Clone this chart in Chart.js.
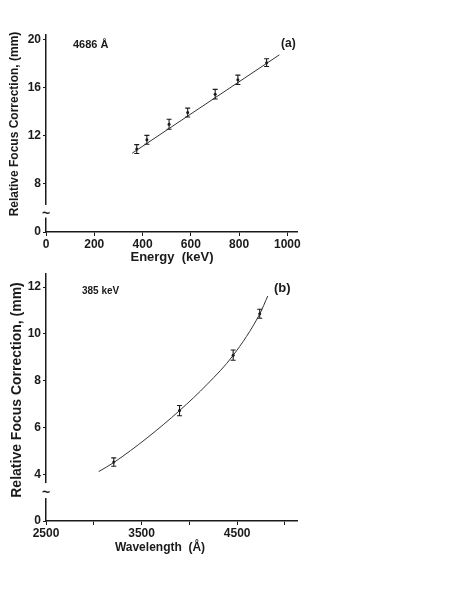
<!DOCTYPE html>
<html lang="en">
<head>
<meta charset="UTF-8">
<title>Relative Focus Correction</title>
<script src="https://cdn.jsdelivr.net/npm/chart.js"></script>
<style>
    body {
        margin: 0;
        background: #fff;
        width: 451px;
        height: 603px;
        position: relative;
        overflow: hidden;
    }
    canvas {
        position: absolute;
        left: 0;
    }
    #chartA { top: 0; }
    #chartB { top: 265px; }
</style>
</head>
<body>

<canvas id="chartA" width="451" height="270"></canvas>
<canvas id="chartB" width="451" height="300"></canvas>

<script>
    // (a) 4686 A line, focus correction vs energy
    const energyKeV = [376, 418, 510, 587, 701, 795, 914];
    const focusA = [10.9, 11.67, 12.97, 13.94, 15.47, 16.67, 18.1];
    const errA = [0.37, 0.37, 0.42, 0.37, 0.4, 0.39, 0.32];
    const fitEnergy = [357, 967];
    const fitFocusA = [10.56, 18.75];
    const xTicksA = [0, 200, 400, 600, 800, 1000];
    const yTicksA = [8, 12, 16, 20];

    // (b) 385 keV, focus correction vs wavelength
    const wavelength = [3209, 3897, 4458, 4736];
    const focusB = [4.52, 6.72, 9.09, 10.86];
    const errB = [0.18, 0.22, 0.22, 0.19];
    const fitWavelength = [3051, 3209, 3557, 3897, 4188, 4458, 4736, 4820];
    const fitFocusB = [4.11, 4.50, 5.55, 6.72, 7.85, 9.08, 10.85, 11.62];
    const xTicksB = [2500, 3000, 3500, 4000, 4500, 5000];
    const xLabelsB = [2500, 3500, 4500];
    const yTicksB = [4, 6, 8, 10, 12];

    const ink = '#1a1a1a';
    const fam = '"Liberation Sans", Arial, sans-serif';

    function pts(xs, ys) {
        return xs.map((x, i) => ({ x: x, y: ys[i] }));
    }

    // error bars, axis break and the hand lettering
    function extras(cfg) {
        return {
            id: 'extras',
            afterDatasetsDraw(chart) {
                const ctx = chart.ctx;
                const xs = chart.scales.x, ys = chart.scales.y;
                ctx.save();
                ctx.strokeStyle = ink;
                ctx.lineWidth = 1.1;
                cfg.xs.forEach((xv, i) => {
                    const px = xs.getPixelForValue(xv);
                    const t = ys.getPixelForValue(cfg.ys[i] + cfg.err[i]);
                    const b = ys.getPixelForValue(cfg.ys[i] - cfg.err[i]);
                    ctx.beginPath();
                    ctx.moveTo(px, t); ctx.lineTo(px, b);
                    ctx.moveTo(px - 2.5, t); ctx.lineTo(px + 2.5, t);
                    ctx.moveTo(px - 2.5, b); ctx.lineTo(px + 2.5, b);
                    ctx.stroke();
                });
                ctx.restore();
            },
            afterDraw(chart) {
                const ctx = chart.ctx;
                const ys = chart.scales.y;
                const ax = chart.chartArea.left;
                const g1 = ys.getPixelForValue(cfg.gap[0]);
                const g2 = ys.getPixelForValue(cfg.gap[1]);
                ctx.save();
                ctx.fillStyle = '#fff';
                ctx.fillRect(ax - 2, g1, 4, g2 - g1);
                ctx.fillStyle = ink;
                ctx.textAlign = 'center';
                ctx.textBaseline = 'middle';
                ctx.font = 'bold 14px ' + fam;
                ctx.fillText('~', ax, (g1 + g2) / 2 + 3);

                cfg.texts.forEach(t => {
                    ctx.font = 'bold ' + t.size + 'px ' + fam;
                    ctx.textAlign = t.align || 'left';
                    ctx.save();
                    ctx.translate(t.x, t.y);
                    if (t.rot) ctx.rotate(-Math.PI / 2);
                    ctx.fillText(t.text, 0, 0);
                    ctx.restore();
                });
                ctx.restore();
            }
        };
    }

    function axisX(min, max, ticks, labels, height) {
        return {
            type: 'linear',
            min: min,
            max: max,
            afterBuildTicks: s => { s.ticks = ticks.map(v => ({ value: v })); },
            afterFit: s => { s.height = height; },
            grid: { drawOnChartArea: false, drawTicks: true, tickLength: 4, color: ink },
            border: { display: true, color: ink, width: 1.5 },
            ticks: {
                color: ink,
                padding: 1,
                maxRotation: 0,
                autoSkip: false,
                font: { family: fam, size: 12, weight: 'bold' },
                callback: v => labels.includes(v) ? String(v) : ''
            }
        };
    }

    function axisY(bottom, max, ticks) {
        return {
            type: 'linear',
            min: bottom,
            max: max,
            afterBuildTicks: s => { s.ticks = [bottom].concat(ticks).map(v => ({ value: v })); },
            afterFit: s => { s.width = 46; },
            grid: { drawOnChartArea: false, drawTicks: true, tickLength: 3, color: ink },
            border: { display: true, color: ink, width: 1.5 },
            ticks: {
                color: ink,
                padding: 2,
                font: { family: fam, size: 12, weight: 'bold' },
                // the lowest tick stands for 0 below the axis break
                callback: v => v === bottom ? '0' : String(v)
            }
        };
    }

    function makeChart(id, c) {
        return new Chart(document.getElementById(id), {
            type: 'scatter',
            data: {
                datasets: [{
                    data: pts(c.fitX, c.fitY),
                    showLine: true,
                    borderColor: '#333',
                    borderWidth: 1,
                    pointRadius: 0,
                    cubicInterpolationMode: 'monotone'
                }, {
                    data: pts(c.xs, c.ys),
                    pointRadius: 1.5,
                    backgroundColor: ink,
                    borderWidth: 0
                }]
            },
            options: {
                responsive: false,
                animation: false,
                layout: { padding: { top: c.top, right: 154, left: 0, bottom: 0 } },
                plugins: { legend: { display: false }, tooltip: { enabled: false } },
                scales: { x: c.x, y: c.y }
            },
            plugins: [extras(c)]
        });
    }

    makeChart('chartA', {
        xs: energyKeV, ys: focusA, err: errA,
        fitX: fitEnergy, fitY: fitFocusA,
        top: 35,
        gap: [6.25, 5.2],
        x: axisX(0, 1040, xTicksA, xTicksA, 38),
        y: axisY(4, 20.4, yTicksA),
        texts: [
            { text: 'Relative Focus Correction, (mm)', x: 15, y: 124, size: 12, rot: true, align: 'center' },
            { text: 'Energy  (keV)', x: 172, y: 257, size: 13, align: 'center' },
            { text: '4686 Å', x: 73, y: 45, size: 11 },
            { text: '(a)', x: 281, y: 44, size: 12 }
        ]
    });

    makeChart('chartB', {
        xs: wavelength, ys: focusB, err: errB,
        fitX: fitWavelength, fitY: fitFocusB,
        top: 8,
        gap: [3.62, 2.98],
        x: axisX(2500, 5126, xTicksB, xLabelsB, 44),
        y: axisY(2, 12.55, yTicksB),
        texts: [
            { text: 'Relative Focus Correction, (mm)', x: 17, y: 125, size: 14, rot: true, align: 'center' },
            { text: 'Wavelength  (Å)', x: 160, y: 283, size: 12, align: 'center' },
            { text: '385 keV', x: 82, y: 26, size: 10 },
            { text: '(b)', x: 274, y: 23, size: 13 }
        ]
    });
</script>

</body>
</html>
